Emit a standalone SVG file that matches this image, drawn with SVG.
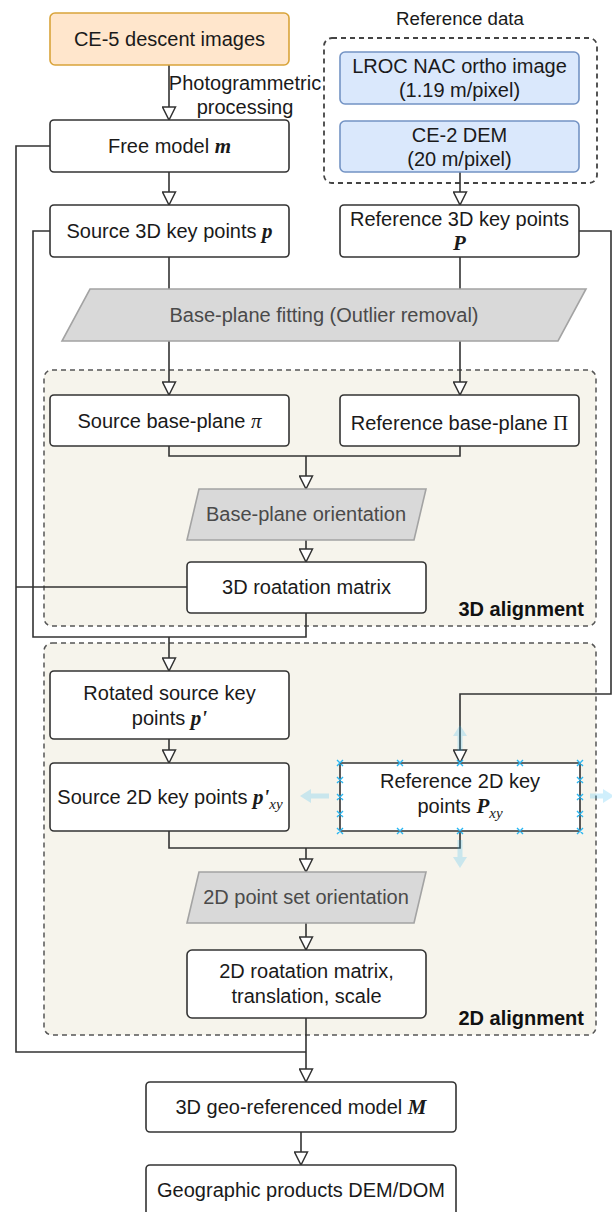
<svg xmlns="http://www.w3.org/2000/svg" width="612" height="1212" viewBox="0 0 612 1212">
  <defs>
    <style>
      .box { fill: #ffffff; stroke: #333333; stroke-width: 1.6; }
      .orange { fill: #ffe6cc; stroke: #d9a43a; stroke-width: 1.6; }
      .blue { fill: #dae8fc; stroke: #7393c4; stroke-width: 1.6; }
      .gray { fill: #d9d9d9; stroke: #a3a3a3; stroke-width: 1.6; }
      .group { fill: #f6f4ec; stroke: #555555; stroke-width: 1.5; stroke-dasharray: 5 4; }
      .refgroup { fill: none; stroke: #444444; stroke-width: 1.8; stroke-dasharray: 5 4; }
      .edge { fill: none; stroke: #333333; stroke-width: 1.6; }
      .arrow { marker-end: url(#hollow); }
      text { font-family: "Liberation Sans", Arial, sans-serif; font-size: 20px; fill: #1a1a1a; text-anchor: middle; }
      .gtext { fill: #4a4a4a; }
      .title { font-size: 18.7px; }
      .glabel { font-weight: bold; text-anchor: end; fill: #111111; }
      .m { font-family: "Liberation Serif", "Times New Roman", serif; font-style: italic; font-weight: bold; font-size: 21px; }
      .mi { font-family: "Liberation Serif", "Times New Roman", serif; font-style: italic; font-size: 21px; }
      .mu { font-family: "Liberation Serif", "Times New Roman", serif; font-size: 21px; }
      .sub { font-family: "Liberation Serif", "Times New Roman", serif; font-style: italic; font-size: 15px; }
      .handle { fill: none; stroke: #29b6f2; stroke-width: 1.4; }
      .hover { fill: #29b6f2; fill-opacity: 0.22; stroke: none; }
    </style>
    <marker id="hollow" viewBox="0 0 15 15" refX="14" refY="7.5" markerWidth="15" markerHeight="15" markerUnits="userSpaceOnUse" orient="auto">
      <path d="M1,1 L14,7.5 L1,14 Z" fill="#ffffff" stroke="#333333" stroke-width="1.5"/>
    </marker>
  </defs>

  <rect width="612" height="1212" fill="#ffffff"/>

  <!-- containers -->
  <g id="group-3d-alignment">
    <rect class="group" x="44" y="370" width="552" height="256" rx="8"/>
    <text class="glabel" x="584" y="616">3D alignment</text>
  </g>
  <g id="group-2d-alignment">
    <rect class="group" x="44" y="643" width="552" height="392" rx="8"/>
    <text class="glabel" x="584" y="1025">2D alignment</text>
  </g>
  <g id="group-reference-data">
    <rect class="refgroup" x="324" y="38" width="273" height="145" rx="8"/>
    <text class="title" x="460" y="25">Reference data</text>
  </g>

  <!-- connectors -->
  <g id="connectors">
    <path class="edge arrow" d="M169,65 V120"/>
    <path class="edge arrow" d="M169,172 V205"/>
    <path class="edge arrow" d="M460,172 V205"/>
    <path class="edge arrow" d="M169,257 V395"/>
    <path class="edge arrow" d="M460,257 V395"/>
    <path class="edge" d="M169,446 V456 H460 V446"/>
    <path class="edge arrow" d="M306,456 V489"/>
    <path class="edge arrow" d="M306,540 V562"/>
    <path class="edge" d="M50,146 H16 V1052 H306"/>
    <path class="edge" d="M187,587 H16"/>
    <path class="edge" d="M50,231 H33 V637 H306 V613"/>
    <path class="edge arrow" d="M169,637 V671"/>
    <path class="edge arrow" d="M169,739 V763"/>
    <path class="edge arrow" d="M579,231 H611 V694 H460 V763"/>
    <path class="edge" d="M169,831 V848 H460 V831"/>
    <path class="edge arrow" d="M306,848 V872"/>
    <path class="edge arrow" d="M306,923 V950"/>
    <path class="edge arrow" d="M306,1018 V1082"/>
    <path class="edge arrow" d="M301,1132 V1165"/>
    <text x="245" y="90">Photogrammetric</text>
    <text x="245" y="114">processing</text>
  </g>

  <!-- nodes -->
  <g id="ce5-images">
    <rect class="orange" x="50" y="13" width="239" height="52" rx="5"/>
    <text x="169.5" y="46">CE-5 descent images</text>
  </g>
  <g id="lroc-nac">
    <rect class="blue" x="340" y="52" width="239" height="52" rx="5"/>
    <text x="459.5" y="73">LROC NAC ortho image</text>
    <text x="459.5" y="97">(1.19 m/pixel)</text>
  </g>
  <g id="ce2-dem">
    <rect class="blue" x="340" y="121" width="239" height="51" rx="5"/>
    <text x="459.5" y="142">CE-2 DEM</text>
    <text x="459.5" y="166">(20 m/pixel)</text>
  </g>
  <g id="free-model">
    <rect class="box" x="50" y="120" width="239" height="52" rx="4"/>
    <text x="169.5" y="153">Free model <tspan class="m">m</tspan></text>
  </g>
  <g id="source-3d-points">
    <rect class="box" x="50" y="205" width="239" height="52" rx="4"/>
    <text x="169.5" y="238">Source 3D key points <tspan class="m">p</tspan></text>
  </g>
  <g id="reference-3d-points">
    <rect class="box" x="340" y="205" width="239" height="52" rx="4"/>
    <text x="459.5" y="226">Reference 3D key points</text>
    <text class="m" x="459.5" y="250">P</text>
  </g>
  <g id="base-plane-fitting">
    <polygon class="gray" points="90,289 586,289 558,341 62,341"/>
    <text class="gtext" x="324" y="322">Base-plane fitting (Outlier removal)</text>
  </g>
  <g id="source-base-plane">
    <rect class="box" x="50" y="395" width="239" height="51" rx="4"/>
    <text x="169.5" y="428">Source base-plane <tspan class="mi">π</tspan></text>
  </g>
  <g id="reference-base-plane">
    <rect class="box" x="340" y="395" width="239" height="51" rx="4"/>
    <text x="459.5" y="430">Reference base-plane <tspan class="mu">Π</tspan></text>
  </g>
  <g id="base-plane-orientation">
    <polygon class="gray" points="199,489 426,489 414,540 187,540"/>
    <text class="gtext" x="306" y="521">Base-plane orientation</text>
  </g>
  <g id="rotation-3d">
    <rect class="box" x="187" y="562" width="239" height="51" rx="4"/>
    <text x="306.5" y="594">3D roatation matrix</text>
  </g>
  <g id="rotated-source-points">
    <rect class="box" x="50" y="671" width="239" height="68" rx="4"/>
    <text x="169.5" y="700">Rotated source key</text>
    <text x="169.5" y="725">points <tspan class="m">p'</tspan></text>
  </g>
  <g id="source-2d-points">
    <rect class="box" x="50" y="763" width="239" height="68" rx="4"/>
    <text x="170" y="804">Source 2D key points <tspan class="m">p'</tspan><tspan class="sub" dy="5">xy</tspan></text>
  </g>
  <g id="reference-2d-points">
    <rect class="box" x="340" y="763" width="240" height="68" rx="1"/>
    <text x="460" y="788">Reference 2D key</text>
    <text x="460" y="813">points <tspan class="m">P</tspan><tspan class="sub" dy="5">xy</tspan></text>
    <!-- selection handles -->
    <path class="handle" d="M337,760 l6,6 m0,-6 l-6,6 M397,760 l6,6 m0,-6 l-6,6 M457,760 l6,6 m0,-6 l-6,6 M517,760 l6,6 m0,-6 l-6,6 M577,760 l6,6 m0,-6 l-6,6
      M337,828 l6,6 m0,-6 l-6,6 M397,828 l6,6 m0,-6 l-6,6 M457,828 l6,6 m0,-6 l-6,6 M517,828 l6,6 m0,-6 l-6,6 M577,828 l6,6 m0,-6 l-6,6
      M337,777 l6,6 m0,-6 l-6,6 M337,794 l6,6 m0,-6 l-6,6 M337,811 l6,6 m0,-6 l-6,6
      M577,777 l6,6 m0,-6 l-6,6 M577,794 l6,6 m0,-6 l-6,6 M577,811 l6,6 m0,-6 l-6,6"/>
    <path class="hover" d="M460,725 L467,736 L462.5,736 L462.5,751 L457.5,751 L457.5,736 L453,736 Z"/>
    <path class="hover" d="M460,868 L467,857 L462.5,857 L462.5,840 L457.5,840 L457.5,857 L453,857 Z"/>
    <path class="hover" d="M300,796 L311,789 L311,793.5 L329,793.5 L329,798.5 L311,798.5 L311,803 Z"/>
    <path class="hover" d="M614,796 L603,789 L603,793.5 L590,793.5 L590,798.5 L603,798.5 L603,803 Z"/>
  </g>
  <g id="point-set-orientation">
    <polygon class="gray" points="199,872 426,872 414,923 187,923"/>
    <text class="gtext" x="306" y="904">2D point set orientation</text>
  </g>
  <g id="rotation-2d">
    <rect class="box" x="187" y="950" width="239" height="68" rx="5"/>
    <text x="306.5" y="978">2D roatation matrix,</text>
    <text x="306.5" y="1003">translation, scale</text>
  </g>
  <g id="geo-referenced-model">
    <rect class="box" x="146" y="1082" width="310" height="50" rx="4"/>
    <text x="301" y="1114">3D geo-referenced model <tspan class="m">M</tspan></text>
  </g>
  <g id="geographic-products">
    <rect class="box" x="146" y="1165" width="310" height="60" rx="4"/>
    <text x="301" y="1197">Geographic products DEM/DOM</text>
  </g>
</svg>
